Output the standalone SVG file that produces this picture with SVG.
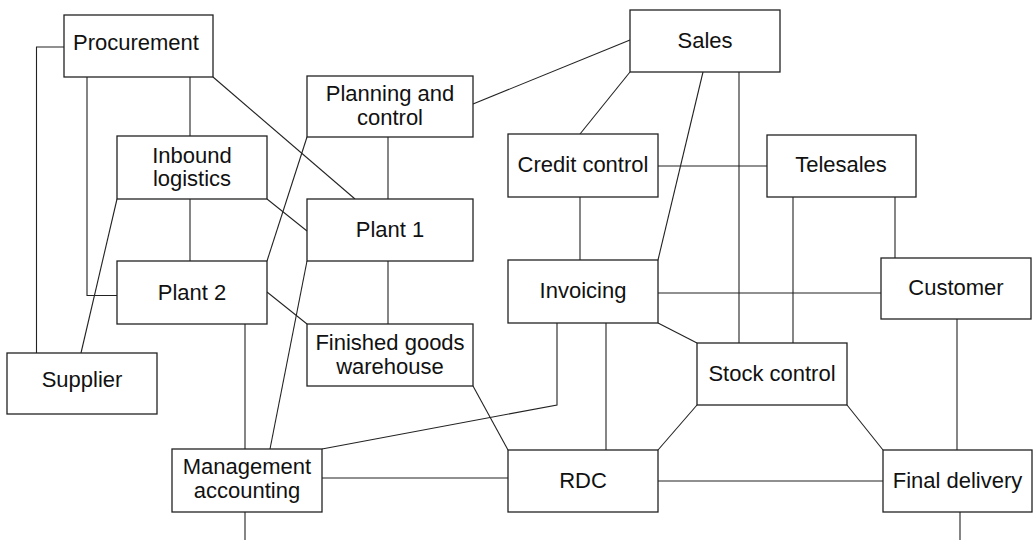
<svg xmlns="http://www.w3.org/2000/svg" width="1035" height="540" viewBox="0 0 1035 540">
<style>
rect{fill:#fff;stroke:#222;stroke-width:1.3}
rect.bg{stroke:none}
line,polyline{fill:none;stroke:#222;stroke-width:1.1}
text{font-family:"Liberation Sans",Arial,sans-serif;font-size:22px;fill:#111;text-anchor:middle}
</style>
<rect class="bg" width="1035" height="540"/>
<g id="connectors">
<polyline points="64,47 36.5,47 36.5,353"/>
<polyline points="87,77 87,295.5 117,295.5"/>
<line x1="190" y1="77" x2="190" y2="136"/>
<line x1="213" y1="77" x2="355" y2="199"/>
<line x1="307" y1="137" x2="267" y2="261"/>
<line x1="117" y1="199" x2="81" y2="353"/>
<line x1="190" y1="199" x2="190" y2="261"/>
<line x1="267" y1="199" x2="307" y2="231"/>
<line x1="388" y1="137" x2="388" y2="199"/>
<line x1="388" y1="261" x2="388" y2="324"/>
<line x1="307" y1="261" x2="270" y2="449"/>
<line x1="267" y1="292" x2="307" y2="324"/>
<line x1="245" y1="324" x2="245" y2="449"/>
<line x1="245" y1="512" x2="245" y2="540"/>
<polyline points="322,449 557,405 557,323"/>
<line x1="322" y1="478" x2="508" y2="478"/>
<line x1="473" y1="386" x2="508" y2="450"/>
<line x1="606" y1="323" x2="606" y2="450"/>
<line x1="473" y1="104" x2="630" y2="40"/>
<line x1="630" y1="72" x2="580" y2="134"/>
<line x1="658" y1="166" x2="767" y2="166"/>
<line x1="703" y1="72" x2="658" y2="260"/>
<line x1="739" y1="72" x2="739" y2="343"/>
<line x1="580" y1="197" x2="580" y2="260"/>
<line x1="793" y1="197" x2="793" y2="343"/>
<line x1="895" y1="197" x2="895" y2="258"/>
<line x1="658" y1="293" x2="881" y2="293"/>
<line x1="658" y1="323" x2="697" y2="343"/>
<line x1="957" y1="319" x2="957" y2="450"/>
<line x1="697" y1="405" x2="658" y2="450"/>
<line x1="847" y1="405" x2="883" y2="450"/>
<line x1="658" y1="481" x2="883" y2="481"/>
<line x1="960" y1="512" x2="960" y2="540"/>
</g>
<g id="procurement"><rect x="64" y="15" width="149" height="62"/><text x="136" y="50">Procurement</text></g>
<g id="supplier"><rect x="7" y="353" width="150" height="61"/><text x="82" y="387">Supplier</text></g>
<g id="inbound"><rect x="117" y="136" width="150" height="63"/><text x="192" y="163">Inbound</text><text x="192" y="186">logistics</text></g>
<g id="planning"><rect x="307" y="76" width="166" height="61"/><text x="390" y="101">Planning and</text><text x="390" y="125">control</text></g>
<g id="plant1"><rect x="307" y="199" width="166" height="62"/><text x="390" y="237">Plant 1</text></g>
<g id="plant2"><rect x="117" y="261" width="150" height="63"/><text x="192" y="300">Plant 2</text></g>
<g id="finished"><rect x="307" y="324" width="166" height="62"/><text x="390" y="350">Finished goods</text><text x="390" y="374">warehouse</text></g>
<g id="management"><rect x="172" y="449" width="150" height="63"/><text x="247" y="474">Management</text><text x="247" y="498">accounting</text></g>
<g id="sales"><rect x="630" y="10" width="150" height="62"/><text x="705" y="48">Sales</text></g>
<g id="credit"><rect x="508" y="134" width="150" height="63"/><text x="583" y="172">Credit control</text></g>
<g id="telesales"><rect x="767" y="135" width="149" height="62"/><text x="841" y="172">Telesales</text></g>
<g id="invoicing"><rect x="508" y="260" width="150" height="63"/><text x="583" y="298">Invoicing</text></g>
<g id="customer"><rect x="881" y="258" width="150" height="61"/><text x="956" y="295">Customer</text></g>
<g id="stock"><rect x="697" y="343" width="150" height="62"/><text x="772" y="381">Stock control</text></g>
<g id="rdc"><rect x="508" y="450" width="150" height="62"/><text x="583" y="488">RDC</text></g>
<g id="final"><rect x="883" y="450" width="149" height="62"/><text x="957.5" y="488">Final delivery</text></g>
</svg>
